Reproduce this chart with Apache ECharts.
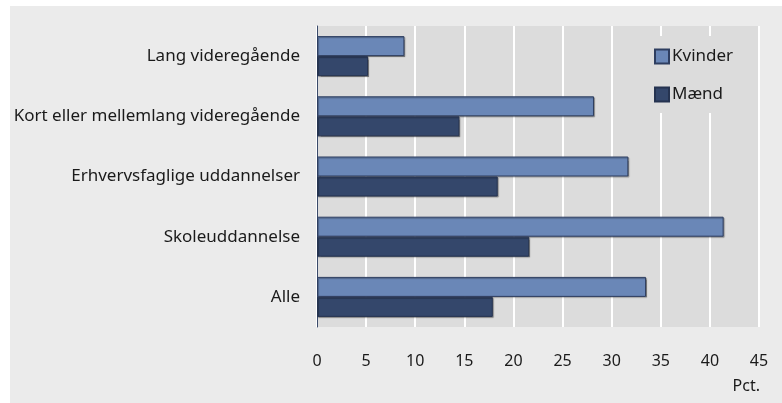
<!DOCTYPE html>
<html>
<head>
<meta charset="utf-8">
<script src="https://cdn.jsdelivr.net/npm/echarts@6/dist/echarts.min.js"></script>
<style>
  html, body { margin: 0; padding: 0; background: #fff; overflow: hidden; }
  #bg { position: absolute; left: 10px; top: 6px; width: 772px; height: 397px; background: #ebebeb; }
  #main { position: absolute; left: 0; top: 0; width: 782px; height: 403px; }
</style>
</head>
<body>
<div id="bg"></div>
<div id="main"></div>
<script>
// uddannelsesgrupper
var categories = ['Lang videregående', 'Kort eller mellemlang videregående', 'Erhvervsfaglige uddannelser', 'Skoleuddannelse', 'Alle'];
var kvinder = [8.9, 28.2, 31.7, 41.4, 33.5];
var maend = [5.2, 14.5, 18.4, 21.6, 17.9];
var xTicks = [0, 5, 10, 15, 20, 25, 30, 35, 40, 45];

var fontName = 'Noto Sans';
var myChart = echarts.init(document.getElementById('main'));

var option = {
  backgroundColor: 'transparent',
  animation: false,
  textStyle: { fontFamily: fontName },
  grid: {
    left: 317,
    top: 26,
    right: 23,
    bottom: 76,
    show: true,
    backgroundColor: '#dcdcdc',
    borderWidth: 0
  },
  legend: {
    data: ['Kvinder', 'Mænd'],
    orient: 'vertical',
    icon: 'rect',
    left: 645,
    top: 36,
    padding: [12, 12, 10, 9],
    itemWidth: 14,
    itemHeight: 14,
    itemGap: 21,
    backgroundColor: '#dcdcdc',
    textStyle: { fontSize: 17, color: '#1a1a1a', fontFamily: fontName, padding: [0, 0, 0, -2] }
  },
  xAxis: {
    type: 'value',
    min: 0,
    max: 45,
    interval: 5,
    axisLine: { show: false },
    axisTick: { show: false },
    axisLabel: {
      margin: 26,
      fontSize: 16,
      color: '#1a1a1a',
      fontFamily: fontName,
      formatter: function (v) { return xTicks.indexOf(v) >= 0 ? String(v) : ''; }
    },
    splitLine: { show: true, lineStyle: { color: '#ffffff', width: 2 } }
  },
  yAxis: {
    type: 'category',
    inverse: true,
    data: categories,
    axisLine: { show: true, lineStyle: { color: '#3a4a6a', width: 1 } },
    axisTick: { show: false },
    axisLabel: { margin: 17, fontSize: 17, color: '#1a1a1a', fontFamily: fontName }
  },
  graphic: [{
    type: 'text',
    right: 22,
    top: 378,
    style: { text: 'Pct.', fontSize: 16, fill: '#1a1a1a', fontFamily: fontName }
  }],
  series: [{
    name: 'Kvinder',
    type: 'bar',
    data: kvinder,
    barWidth: 20,
    barGap: '0%',
    itemStyle: {
      color: '#6a87b7',
      borderColor: '#2e3e60',
      borderWidth: 1,
      shadowColor: 'rgba(0,0,0,0.3)',
      shadowOffsetX: 1,
      shadowOffsetY: 1,
      shadowBlur: 1
    }
  }, {
    name: 'Mænd',
    type: 'bar',
    data: maend,
    barWidth: 20,
    barGap: '0%',
    itemStyle: {
      color: '#34476b',
      borderColor: '#253350',
      borderWidth: 1,
      shadowColor: 'rgba(0,0,0,0.3)',
      shadowOffsetX: 1,
      shadowOffsetY: 1,
      shadowBlur: 1
    }
  }]
};
myChart.setOption(option);
</script>
</body>
</html>
